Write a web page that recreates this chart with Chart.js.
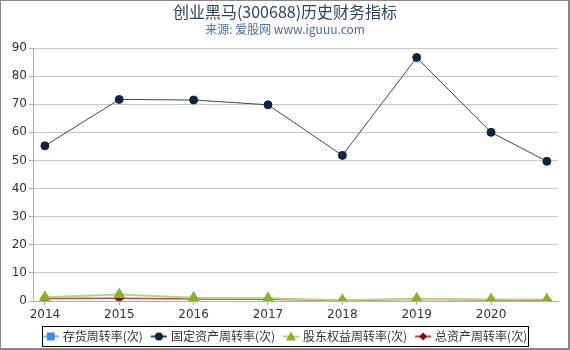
<!DOCTYPE html>
<html>
<head>
<meta charset="utf-8">
<script src="https://cdn.jsdelivr.net/npm/chart.js@4/dist/chart.umd.min.js"></script>
<style>
  html, body { margin: 0; padding: 0; background: #fff; }
  #wrap { position: relative; width: 570px; height: 350px; }
  #frame { position: absolute; left: 0; top: 0; width: 567px; height: 347px;
           border-left: 1px solid #888; border-top: 1px solid #888;
           border-right: 2px solid #888; border-bottom: 2px solid #888; pointer-events: none; }
</style>
</head>
<body>
<div id="wrap">
  <canvas id="canvas" width="570" height="350"></canvas>
  <div id="frame"></div>
</div>
<script>
// data
const years = [2014, 2015, 2016, 2017, 2018, 2019, 2020, 2020.75];
const yearTicks = [2014, 2015, 2016, 2017, 2018, 2019, 2020];
const inventoryTurnover = [];
const fixedAssetTurnover = [55.2, 71.7, 71.5, 69.8, 51.8, 86.6, 60.0, 49.7];
const equityTurnover = [1.3, 2.3, 1.2, 1.0, 0.3, 0.8, 0.5, 0.5];
const totalAssetTurnover = [0.9, 1.0, 0.7, 0.6, 0.2, 0.6, 0.4, 0.3];
const seriesNames = ['存货周转率(次)', '固定资产周转率(次)', '股东权益周转率(次)', '总资产周转率(次)'];

const titleText = '创业黑马(300688)历史财务指标';
const subtitleText = '来源: 爱股网 www.iguuu.com';

const toPoints = (vals) => vals.map((v, i) => ({ x: years[i], y: v }));

// title + boxed legend drawn straight on the canvas
const decorPlugin = {
    id: 'decor',
    afterDraw(chart) {
        const ctx = chart.ctx;
        ctx.save();
        ctx.textAlign = 'center';
        ctx.textBaseline = 'middle';
        ctx.fillStyle = '#2e4360';
        ctx.font = '16px "Noto Sans CJK SC", "DejaVu Sans", sans-serif';
        ctx.fillText(titleText, 285, 12);
        ctx.fillStyle = '#4d6e9c';
        ctx.font = '12px "Noto Sans CJK SC", "DejaVu Sans", sans-serif';
        ctx.fillText(subtitleText, 285, 29);

        // legend
        ctx.font = '12px "Noto Sans CJK SC", "DejaVu Sans", sans-serif';
        const ds = chart.data.datasets;
        const markW = 16, gap = 4, itemGap = 8;
        const widths = ds.map(d => markW + gap + ctx.measureText(d.label).width);
        const total = widths.reduce((a, b) => a + b, 0) + itemGap * (ds.length - 1);
        const boxL = 42, boxR = 528, boxT = 326, boxB = 346;
        ctx.strokeStyle = '#000';
        ctx.lineWidth = 1;
        ctx.strokeRect(boxL + 0.5, boxT + 0.5, boxR - boxL, boxB - boxT);
        let x = (boxL + boxR) / 2 - total / 2;
        const cy = (boxT + boxB) / 2 + 0.5;
        ds.forEach((d, i) => {
            ctx.strokeStyle = d.borderColor;
            ctx.lineWidth = 2;
            ctx.beginPath();
            ctx.moveTo(x, cy);
            ctx.lineTo(x + markW, cy);
            ctx.stroke();
            drawMarker(ctx, d.pointStyle, x + markW / 2, cy, d.pointBackgroundColor);
            ctx.fillStyle = '#333';
            ctx.textAlign = 'left';
            ctx.fillText(d.label, x + markW + gap, cy);
            x += widths[i] + itemGap;
        });
        ctx.restore();
    }
};

function drawMarker(ctx, style, x, y, color) {
    ctx.fillStyle = color;
    ctx.beginPath();
    if (style === 'rect') {
        ctx.rect(x - 4, y - 4, 8, 8);
    } else if (style === 'circle') {
        ctx.arc(x, y, 4, 0, Math.PI * 2);
    } else if (style === 'triangle') {
        ctx.moveTo(x, y - 5);
        ctx.lineTo(x + 5, y + 4);
        ctx.lineTo(x - 5, y + 4);
        ctx.closePath();
    } else {
        ctx.moveTo(x, y - 4);
        ctx.lineTo(x + 4, y);
        ctx.lineTo(x, y + 4);
        ctx.lineTo(x - 4, y);
        ctx.closePath();
    }
    ctx.fill();
}

const ctx = document.getElementById('canvas').getContext('2d');
new Chart(ctx, {
    type: 'line',
    data: {
        datasets: [
            { label: seriesNames[0], data: toPoints(inventoryTurnover), borderColor: '#7fb2ea', pointBackgroundColor: '#3a8ee6',
              pointBorderColor: '#3a8ee6', pointStyle: 'rect', pointRadius: 4, borderWidth: 1.5, order: 4 },
            { label: seriesNames[1], data: toPoints(fixedAssetTurnover), borderColor: '#34465f', pointBackgroundColor: '#0e2442',
              pointBorderColor: '#0e2442', pointStyle: 'circle', pointRadius: 4, borderWidth: 1, order: 1 },
            { label: seriesNames[2], data: toPoints(equityTurnover), borderColor: '#b4d67e', pointBackgroundColor: '#88b324',
              pointBorderColor: '#88b324', pointStyle: 'triangle', pointRadius: 5, borderWidth: 2, order: 2 },
            { label: seriesNames[3], data: toPoints(totalAssetTurnover), borderColor: '#b84848', pointBackgroundColor: '#8b0a0a',
              pointBorderColor: '#8b0a0a', pointStyle: 'rectRot', pointRadius: 4, borderWidth: 1.5, order: 3 }
        ]
    },
    options: {
        responsive: false,
        animation: false,
        layout: { padding: { top: 48, right: 12, bottom: 21, left: 0 } },
        plugins: { legend: { display: false }, title: { display: false }, tooltip: { enabled: false } },
        scales: {
            x: {
                type: 'linear',
                min: 2013.84,
                max: 2020.9,
                afterBuildTicks: (scale) => { scale.ticks = yearTicks.map(v => ({ value: v })); },
                afterFit: (scale) => { scale.height = 28; },
                ticks: { callback: (v) => String(v), color: '#333', padding: 3,
                         font: { family: '"DejaVu Sans", sans-serif', size: 12 }, maxRotation: 0 },
                grid: { drawOnChartArea: false, drawTicks: true, tickLength: 4, tickColor: '#aaa' },
                border: { color: '#b0b0b0' }
            },
            y: {
                min: 0,
                max: 90,
                afterFit: (scale) => { scale.width = 33; },
                ticks: { stepSize: 10, color: '#333', padding: 2,
                         font: { family: '"DejaVu Sans", sans-serif', size: 12 } },
                grid: { color: '#c8c8c8', tickLength: 4, tickColor: '#aaa' },
                border: { color: '#b0b0b0' }
            }
        }
    },
    plugins: [decorPlugin]
});
</script>
</body>
</html>
